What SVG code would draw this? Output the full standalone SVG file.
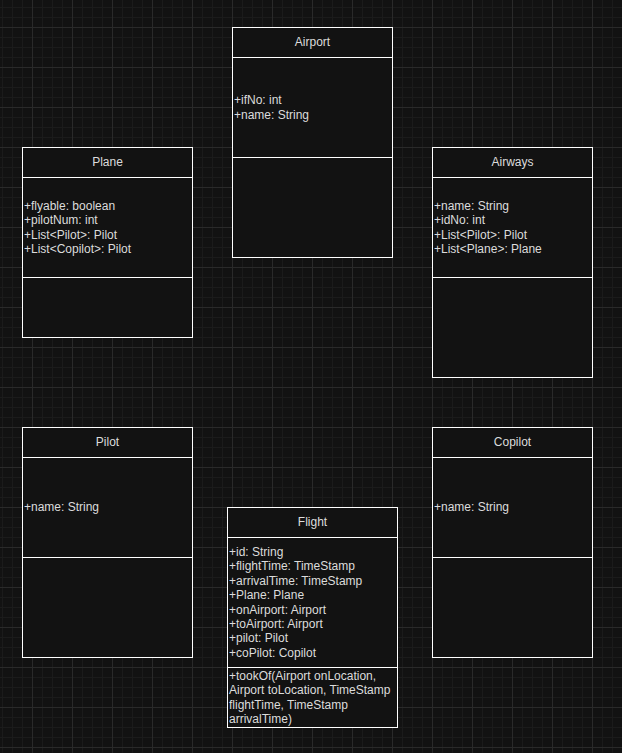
<svg xmlns="http://www.w3.org/2000/svg" width="622" height="753" viewBox="0 0 622 753">
<defs>
<pattern id="minor" x="2" y="7" width="10" height="10" patternUnits="userSpaceOnUse">
<path d="M0.5 0V10M0 0.5H10" stroke="#1b1b1b" stroke-width="1" fill="none"/>
</pattern>
<pattern id="major" x="32" y="27" width="40" height="40" patternUnits="userSpaceOnUse">
<path d="M0.5 0V40M0 0.5H40" stroke="#2a2a2a" stroke-width="1" fill="none"/>
</pattern>
</defs>
<style>
.box{fill:#121212;stroke:#ffffff;stroke-width:1}
.ln{stroke:#ffffff;stroke-width:1}
.t{font-family:"Liberation Sans",Arial,sans-serif;font-size:12px;fill:#dcdcdc}
.h{text-anchor:middle}
</style>
<rect width="622" height="753" fill="#121212"/>
<rect width="622" height="753" fill="url(#minor)"/>
<rect width="622" height="753" fill="url(#major)"/>
<g id="connectors"/>
<g id="airport">
<rect class="box" x="232.5" y="27.5" width="160" height="230"/>
<line class="ln" x1="232.5" y1="57.5" x2="392.5" y2="57.5"/>
<line class="ln" x1="232.5" y1="157.5" x2="392.5" y2="157.5"/>
<text class="t h" x="312.5" y="46">Airport</text>
<text class="t" x="234" y="104">+ifNo: int</text>
<text class="t" x="234" y="119">+name: String</text>
</g>
<g id="plane">
<rect class="box" x="22.5" y="147.5" width="170" height="190"/>
<line class="ln" x1="22.5" y1="177.5" x2="192.5" y2="177.5"/>
<line class="ln" x1="22.5" y1="277.5" x2="192.5" y2="277.5"/>
<text class="t h" x="107.5" y="166">Plane</text>
<text class="t" x="24" y="210">+flyable: boolean</text>
<text class="t" x="24" y="224">+pilotNum: int</text>
<text class="t" x="24" y="239">+List&lt;Pilot&gt;: Pilot</text>
<text class="t" x="24" y="253">+List&lt;Copilot&gt;: Pilot</text>
</g>
<g id="airways">
<rect class="box" x="432.5" y="147.5" width="160" height="230"/>
<line class="ln" x1="432.5" y1="177.5" x2="592.5" y2="177.5"/>
<line class="ln" x1="432.5" y1="277.5" x2="592.5" y2="277.5"/>
<text class="t h" x="512.5" y="166">Airways</text>
<text class="t" x="434" y="210">+name: String</text>
<text class="t" x="434" y="224">+idNo: int</text>
<text class="t" x="434" y="239">+List&lt;Pilot&gt;: Pilot</text>
<text class="t" x="434" y="253">+List&lt;Plane&gt;: Plane</text>
</g>
<g id="pilot">
<rect class="box" x="22.5" y="427.5" width="170" height="230"/>
<line class="ln" x1="22.5" y1="457.5" x2="192.5" y2="457.5"/>
<line class="ln" x1="22.5" y1="557.5" x2="192.5" y2="557.5"/>
<text class="t h" x="107.5" y="446">Pilot</text>
<text class="t" x="24" y="511">+name: String</text>
</g>
<g id="copilot">
<rect class="box" x="432.5" y="427.5" width="160" height="230"/>
<line class="ln" x1="432.5" y1="457.5" x2="592.5" y2="457.5"/>
<line class="ln" x1="432.5" y1="557.5" x2="592.5" y2="557.5"/>
<text class="t h" x="512.5" y="446">Copilot</text>
<text class="t" x="434" y="511">+name: String</text>
</g>
<g id="flight">
<rect class="box" x="227.5" y="507.5" width="170" height="220"/>
<line class="ln" x1="227.5" y1="537.5" x2="397.5" y2="537.5"/>
<line class="ln" x1="227.5" y1="667.5" x2="397.5" y2="667.5"/>
<text class="t h" x="312.5" y="526">Flight</text>
<text class="t" x="229" y="556">+id: String</text>
<text class="t" x="229" y="570">+flightTime: TimeStamp</text>
<text class="t" x="229" y="585">+arrivalTime: TimeStamp</text>
<text class="t" x="229" y="599">+Plane: Plane</text>
<text class="t" x="229" y="614">+onAirport: Airport</text>
<text class="t" x="229" y="628">+toAirport: Airport</text>
<text class="t" x="229" y="642">+pilot: Pilot</text>
<text class="t" x="229" y="657">+coPilot: Copilot</text>
<text class="t" x="229" y="680">+tookOf(Airport onLocation,</text>
<text class="t" x="229" y="694">Airport toLocation, TimeStamp</text>
<text class="t" x="229" y="709">flightTime, TimeStamp</text>
<text class="t" x="229" y="723">arrivalTime)</text>
</g>
</svg>
